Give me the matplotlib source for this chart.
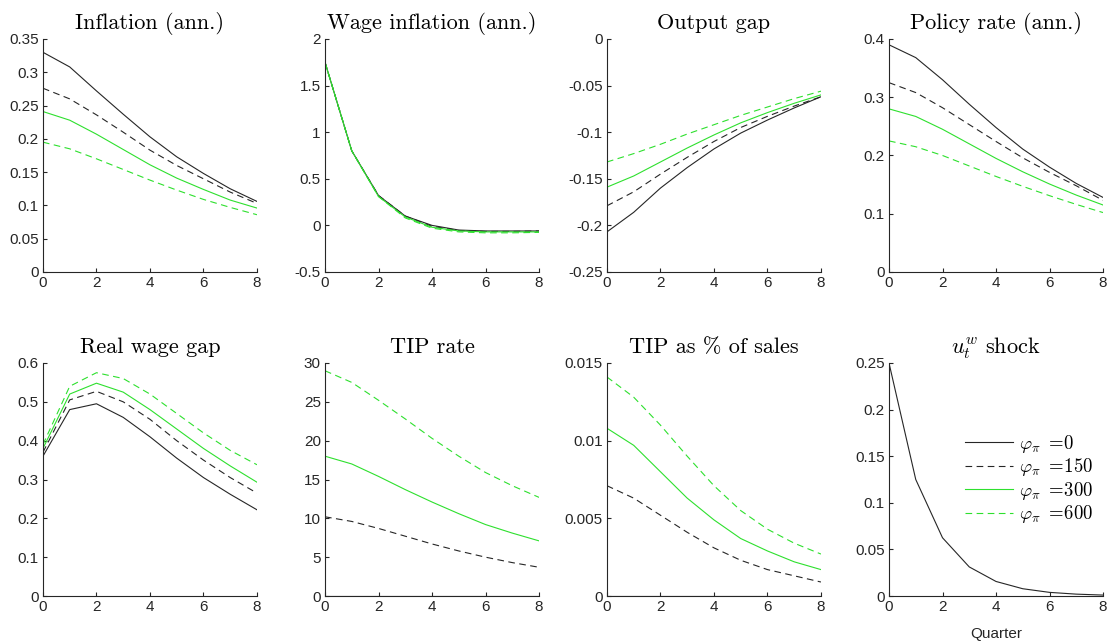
import matplotlib
matplotlib.use("Agg")
import matplotlib.pyplot as plt
from matplotlib.ticker import FuncFormatter
import numpy as np

plt.rcParams['font.family'] = ['Liberation Sans', 'DejaVu Sans']
plt.rcParams['mathtext.fontset'] = 'cm'
plt.rcParams['axes.unicode_minus'] = False

quarters = [0, 1, 2, 3, 4, 5, 6, 7, 8]
labels = [r'$\varphi_\pi\ =\!0$', r'$\varphi_\pi\ =\!150$', r'$\varphi_\pi\ =\!300$', r'$\varphi_\pi\ =\!600$']

# each panel: values for phi_pi = 0, 150, 300, 600
inflation = [
    [0.330, 0.308, 0.272, 0.237, 0.203, 0.173, 0.148, 0.125, 0.106],
    [0.276, 0.260, 0.236, 0.210, 0.183, 0.160, 0.140, 0.120, 0.103],
    [0.241, 0.228, 0.207, 0.184, 0.161, 0.141, 0.124, 0.108, 0.096],
    [0.195, 0.185, 0.170, 0.154, 0.138, 0.123, 0.109, 0.097, 0.086],
]
wage_inflation = [
    [1.75, 0.80, 0.32, 0.10, 0.00, -0.05, -0.06, -0.06, -0.06],
    [1.75, 0.80, 0.32, 0.10, -0.01, -0.055, -0.065, -0.065, -0.06],
    [1.75, 0.80, 0.31, 0.09, -0.02, -0.06, -0.07, -0.07, -0.07],
    [1.75, 0.80, 0.31, 0.08, -0.03, -0.07, -0.08, -0.08, -0.075],
]
output_gap = [
    [-0.207, -0.186, -0.160, -0.138, -0.118, -0.101, -0.087, -0.074, -0.062],
    [-0.179, -0.164, -0.145, -0.127, -0.110, -0.095, -0.083, -0.072, -0.062],
    [-0.159, -0.147, -0.132, -0.117, -0.103, -0.090, -0.079, -0.069, -0.060],
    [-0.132, -0.123, -0.113, -0.102, -0.092, -0.082, -0.073, -0.064, -0.056],
]
policy_rate = [
    [0.390, 0.368, 0.330, 0.288, 0.248, 0.211, 0.180, 0.152, 0.128],
    [0.325, 0.308, 0.282, 0.253, 0.224, 0.196, 0.171, 0.148, 0.123],
    [0.280, 0.267, 0.245, 0.220, 0.195, 0.172, 0.151, 0.132, 0.115],
    [0.225, 0.215, 0.200, 0.182, 0.164, 0.147, 0.131, 0.116, 0.102],
]
real_wage_gap = [
    [0.360, 0.480, 0.495, 0.460, 0.410, 0.355, 0.305, 0.262, 0.222],
    [0.370, 0.505, 0.527, 0.500, 0.455, 0.400, 0.350, 0.305, 0.265],
    [0.380, 0.520, 0.548, 0.525, 0.480, 0.430, 0.380, 0.335, 0.293],
    [0.390, 0.540, 0.575, 0.560, 0.520, 0.470, 0.420, 0.375, 0.338],
]
tip_rate = [
    [0, 0, 0, 0, 0, 0, 0, 0, 0],
    [10.2, 9.6, 8.7, 7.7, 6.7, 5.8, 5.0, 4.3, 3.7],
    [18.0, 17.0, 15.4, 13.7, 12.1, 10.6, 9.2, 8.1, 7.1],
    [29.0, 27.5, 25.2, 22.8, 20.3, 18.0, 15.9, 14.2, 12.7],
]
tip_sales = [
    [0, 0, 0, 0, 0, 0, 0, 0, 0],
    [0.0071, 0.0063, 0.0052, 0.0041, 0.0031, 0.0023, 0.0017, 0.0013, 0.0009],
    [0.0108, 0.0097, 0.0080, 0.0063, 0.0049, 0.0037, 0.0029, 0.0022, 0.0017],
    [0.0141, 0.0128, 0.0110, 0.0090, 0.0071, 0.0055, 0.0043, 0.0034, 0.0027],
]
shock = [0.25, 0.125, 0.0625, 0.0312, 0.0156, 0.0078, 0.0039, 0.0020, 0.0010]

panels = [
    ('Inflation (ann.)', inflation, (0, 0.35), 0.05),
    ('Wage inflation (ann.)', wage_inflation, (-0.5, 2), 0.5),
    ('Output gap', output_gap, (-0.25, 0), 0.05),
    ('Policy rate (ann.)', policy_rate, (0, 0.4), 0.1),
    ('Real wage gap', real_wage_gap, (0, 0.6), 0.1),
    ('TIP rate', tip_rate, (0, 30), 5),
    ('TIP as % of sales', tip_sales, (0, 0.015), 0.005),
    (r'$u_t^w$ shock', None, (0, 0.25), 0.05),
]

green = '#2ee02e'
dash = (0, (6, 4))
styles = [('#262626', '-'), ('#262626', dash), (green, '-'), (green, dash)]
axis_grey = '#262626'


def tick_fmt(v, pos):
    v = round(v, 6) + 0.0
    if v == 0:
        return '0'
    return '%g' % v


fig = plt.figure(figsize=(11.10, 6.41), dpi=100)
lefts = [0.0387, 0.2928, 0.5468, 0.8009]
bottoms = [0.5757, 0.0702]
w, h = 0.1928, 0.3635

handles = []
for i, (title, data, ylim, step) in enumerate(panels):
    ax = fig.add_axes([lefts[i % 4], bottoms[i // 4], w, h])
    if data is not None:
        for k, series in enumerate(data):
            c, ls = styles[k]
            ln, = ax.plot(quarters, series, color=c, linestyle=ls, linewidth=0.8)
            if i == 0:
                handles.append(ln)
    else:
        c, ls = styles[0]
        ax.plot(quarters, shock, color=c, linestyle=ls, linewidth=0.8)
    ax.set_xlim(0, 8)
    ax.set_ylim(*ylim)
    ax.set_xticks([0, 2, 4, 6, 8])
    ax.set_yticks(np.arange(ylim[0], ylim[1] + step / 2, step))
    ax.yaxis.set_major_formatter(FuncFormatter(tick_fmt))
    ax.set_title(title, fontsize=16, pad=7, color='black', family='cmr10')
    for s in ['top', 'right']:
        ax.spines[s].set_visible(False)
    for s in ['left', 'bottom']:
        ax.spines[s].set_color(axis_grey)
        ax.spines[s].set_linewidth(0.8)
    ax.tick_params(direction='in', length=3, width=0.8, colors=axis_grey,
                   labelsize=11, labelcolor=axis_grey, pad=3)
    if i == 7:
        ax.set_xlabel('Quarter', fontsize=11, color=axis_grey, labelpad=9)
        ax.legend(handles, labels, frameon=False, loc='upper left',
                  bbox_to_anchor=(0.31, 0.74), fontsize=13.5, handlelength=2.6,
                  handletextpad=0.3, labelspacing=0.08, borderpad=0)

fig.savefig('out.png', dpi=100)
